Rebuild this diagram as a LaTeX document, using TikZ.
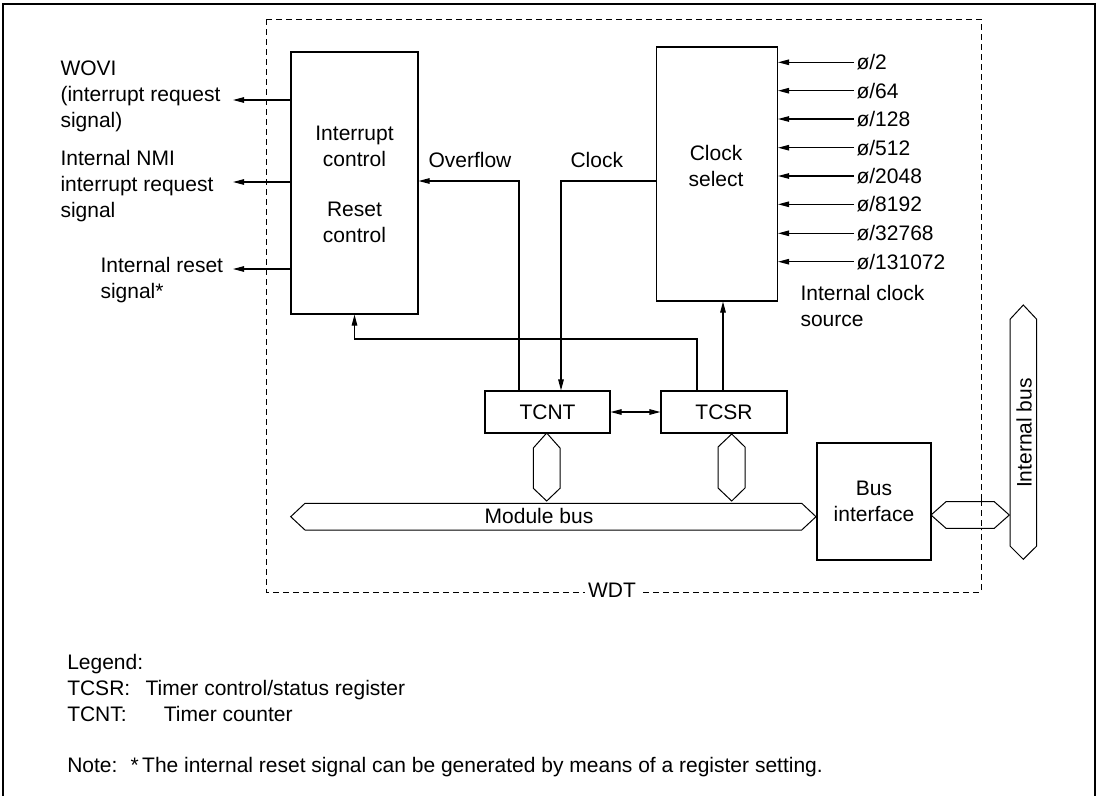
\documentclass[tikz,border=0pt]{standalone}
\usepackage{fontspec}
\setmainfont{Liberation Sans}
\usetikzlibrary{arrows.meta}
\begin{document}
\begin{tikzpicture}[x=1pt,y=-1pt,line width=1.1pt,
  font=\fontsize{21}{26}\selectfont,
  box/.style={draw,inner sep=0pt,fill=white},
  txt/.style={inner sep=0pt,align=center},
  ltxt/.style={inner sep=0pt,align=left},
  arr/.style={-{Triangle[length=11pt,width=5.5pt]}},
  arrtwo/.style={{Triangle[length=11pt,width=5.5pt]}-{Triangle[length=11pt,width=5.5pt]}},
  bus/.style={draw,fill=white,line width=1pt},
  legtxt/.style={inner sep=0pt,anchor=base west}]
\useasboundingbox (0,0) rectangle (1099,795);
\clip (0,0) rectangle (1099,795);
% outer frame
\draw (3,4) rectangle (1095,800);
% WDT dashed box
\draw[dash pattern=on 6pt off 4pt,line width=1pt] (266,19) rectangle (981,592);
\node[fill=white,inner xsep=3pt,inner ysep=2pt] (wdt) at (612,590) {WDT};

% main boxes
\node[box,minimum width=127pt,minimum height=262pt] (intc) at (354.5,183) {};
\node[txt,anchor=base] (intctxt) at (354.5,242.7) {Interrupt\\control\\[24pt]Reset\\control};
\node[box,minimum width=121pt,minimum height=254pt] (clk) at (717,174) {};
\node[txt,anchor=base] (clktxt) at (716,186) {Clock\\select};
\node[box,minimum width=125pt,minimum height=42pt] (tcnt) at (547.5,412) {TCNT};
\node[box,minimum width=126pt,minimum height=42pt] (tcsr) at (724,412) {TCSR};
\node[box,minimum width=114pt,minimum height=117pt,align=center] (busif) at (874,501.5) {Bus\\interface};

% left outputs
\node[ltxt,anchor=base west] (wovi) at (60,127) {WOVI\\(interrupt request\\signal)};
\node[ltxt,anchor=base west] (nmi) at (60,217) {Internal NMI\\interrupt request\\signal};
\node[ltxt,anchor=base west] (rst) at (100,298) {Internal reset\\signal*};
\coordinate (w1) at (233,100);
\coordinate (w2) at (233,182);
\coordinate (w3) at (233,269);
\draw[arr] (intc.west |- w1) -- (w1);
\draw[arr] (intc.west |- w2) -- (w2);
\draw[arr] (intc.west |- w3) -- (w3);

% overflow / clock
\node[txt,anchor=base west] (ovf) at (428,167) {Overflow};
\node[txt,anchor=base west] (clklbl) at (570,167) {Clock};
\draw[arr] (tcnt.north -| 519,0) |- (intc.east |- 0,181);
\draw[arr] (clk.west |- 0,181) -| (tcnt.north -| 561,0);
\draw[arr] (tcsr.north -| 697,0) |- (intc.south |- 0,339) -- (intc.south);
\draw[arr] (tcsr.north -| 723,0) -- (clk.south -| 723,0);
\draw[arrtwo] (tcnt.east) -- (tcsr.west);

% clock inputs
\foreach \t/\yy [count=\i] in {2/62.3,64/90.7,128/119,512/147.7,2048/176,8192/204.3,32768/233.3,131072/261.7}{
  \node[inner xsep=2pt,inner ysep=0pt,text height=15pt,text depth=0pt,anchor=west] (in\i) at (854,\yy) {ø/\t};
  \draw[arr] (in\i.west) -- (clk.east |- in\i.west);
}
\node[ltxt,anchor=base west] (ics) at (800,326) {Internal clock\\source};

% buses
\draw[bus] (290.7,516.7) -- (305,503.3) -- (801.7,503.3) -- (816,516.7) -- (801.7,530) -- (305,530) -- cycle;
\node[txt,anchor=base] (modbus) at (539,523) {Module bus};
\draw[bus] (546.7,433) -- (560,448) -- (560,488.3) -- (546.7,501) -- (533.3,488.3) -- (533.3,448) -- cycle;
\draw[bus] (731.7,434) -- (745,447) -- (745,488) -- (731.7,501) -- (718,488) -- (718,447) -- cycle;
\draw[bus] (931,515) -- (946,501.7) -- (994.3,501.7) -- (1009.3,515) -- (994.3,528.3) -- (946,528.3) -- cycle;
\draw[dash pattern=on 6pt off 4pt,line width=1pt] (981,500) -- (981,530);
\draw[bus] (1023.3,305) -- (1036.7,319.3) -- (1036.7,546) -- (1023.3,559.3) -- (1010,546) -- (1010,319.3) -- cycle;
\node[txt,rotate=90] (ibus) at (1024,433) {Internal bus};

% legend
\node[legtxt] (leg) at (66.7,669.3) {Legend:};
\node[legtxt] (leg1) at (66.7,695) {\makebox[78.3pt][l]{TCSR:}Timer control/status register};
\node[legtxt] (leg2) at (66.7,721.7) {\makebox[96.6pt][l]{TCNT:}Timer counter};
\node[legtxt] (note) at (66.7,772) {\makebox[63.3pt][l]{Note:}\makebox[11.7pt][l]{*}The internal reset signal can be generated by means of a register setting.};
\end{tikzpicture}
\end{document}
